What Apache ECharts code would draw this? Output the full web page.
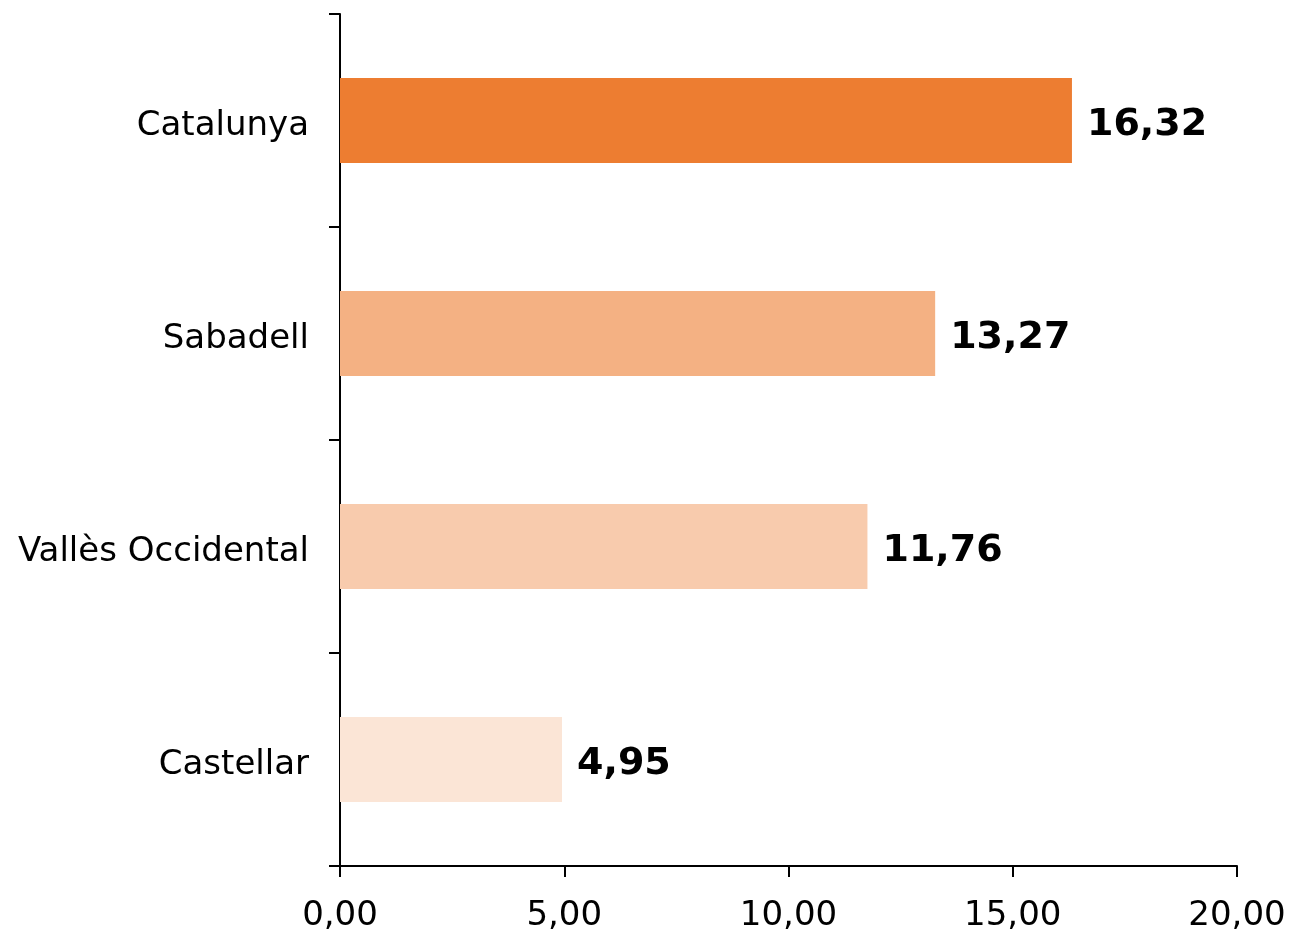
<!DOCTYPE html>
<html><head><meta charset="utf-8">
<script src="https://cdn.jsdelivr.net/npm/echarts@6/dist/echarts.min.js"></script>
<style>html,body{margin:0;padding:0;background:#fff}#c{width:1295px;height:933px}</style>
</head><body><div id="c"></div>
<script>
const categories = ['Catalunya', 'Sabadell', 'Vallès Occidental', 'Castellar'];
const values = [16.32, 13.27, 11.76, 4.95];
const barColors = ['#ED7D31', '#F4B183', '#F8CBAD', '#FBE5D6'];
const xTicks = [0, 5, 10, 15, 20];

const fmt = v => v.toFixed(2).replace('.', ',');
const chart = echarts.init(document.getElementById('c'));
chart.setOption({
  animation: false,
  grid: { left: 340, right: 58, top: 14, bottom: 67, containLabel: false },
  xAxis: {
    type: 'value', min: xTicks[0], max: xTicks[xTicks.length - 1], interval: 5,
    axisLine: { show: true, lineStyle: { color: '#000', width: 2 } },
    axisTick: { show: true, length: 11, lineStyle: { color: '#000', width: 2 } },
    splitLine: { show: false },
    axisLabel: { formatter: fmt, fontFamily: 'DejaVu Sans', fontSize: 34, color: '#000', margin: 33 }
  },
  yAxis: {
    type: 'category', data: categories, inverse: true,
    axisLine: { show: true, lineStyle: { color: '#000', width: 2 } },
    axisTick: { show: true, length: 11, alignWithLabel: false, lineStyle: { color: '#000', width: 2 } },
    axisLabel: {
      margin: 31, color: '#000',
      formatter: v => '{a|' + v + '}',
      rich: { a: { fontFamily: 'DejaVu Sans', fontSize: 34, color: '#000', padding: [12, 0, 0, 0] } }
    }
  },
  series: [{
    type: 'bar', barWidth: 85,
    data: values.map((v, i) => ({ value: v, itemStyle: { color: barColors[i] } })),
    label: { show: true, position: 'right', distance: 15, offset: [0, 5], formatter: p => fmt(p.value),
      fontFamily: 'DejaVu Sans', fontWeight: 'bold', fontSize: 38, color: '#000' }
  }]
});
</script></body></html>
